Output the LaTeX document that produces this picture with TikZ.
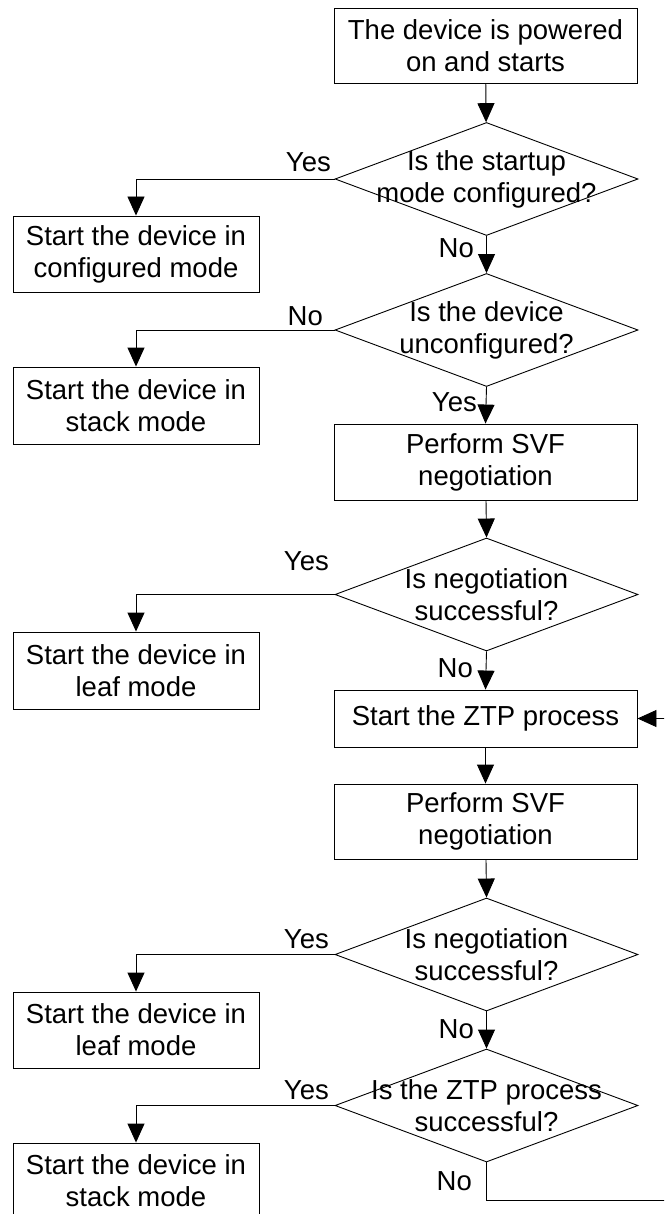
\documentclass[tikz,border=0pt]{standalone}
\usepackage{fontspec}
\setmainfont{Liberation Sans}
\usetikzlibrary{arrows.meta,shapes.geometric}

\tikzset{
  txt/.style={font=\fontsize{27.5}{32}\selectfont, align=center},
  procbox/.style={draw, line width=0.9pt, rectangle, inner sep=0pt, txt},
  mainbox/.style={procbox, minimum width=303pt, minimum height=75pt},
  sidebox/.style={procbox, minimum width=246pt, minimum height=76pt},
  decision/.style={draw, line width=0.9pt, diamond, inner sep=0pt,
    minimum width=303pt, minimum height=113pt},
  question/.style={txt, inner sep=0pt},
  branch/.style={txt, inner sep=0pt, anchor=base east},
  flow/.style={line width=0.9pt, -{Triangle[length=19pt,width=17pt]}}
}

\begin{document}
\begin{tikzpicture}[x=1pt,y=-1pt]
  \useasboundingbox (0,0) rectangle (664,1214);
  \fill[white] (0,0) rectangle (664,1214);
  \clip (0,0) rectangle (664,1214);

  % main column
  \node[mainbox] (start) at (485.5,45.5) {The device is powered\\on and starts};
  \node[decision] (q1) at (486.5,179) {};
  \node[question] (q1t) at (q1.center) {Is the startup\\mode configured?};
  \node[decision] (q2) at (486.5,330) {};
  \node[question] (q2t) at (q2.center) {Is the device\\unconfigured?};
  \node[mainbox, minimum height=76pt] (svf1) at (485.5,462) {Perform SVF\\negotiation};
  \node[decision] (q3) at (486.5,594.5) {};
  \node[question] (q3t) at (q3.center) {Is negotiation\\successful?};
  \node[mainbox, minimum height=57pt] (ztp) at (485.5,718.5) {Start the ZTP process};
  \node[mainbox] (svf2) at (485.5,821.5) {Perform SVF\\negotiation};
  \node[decision] (q4) at (486.5,954.5) {};
  \node[question] (q4t) at (q4.center) {Is negotiation\\successful?};
  \node[decision] (q5) at (486.5,1105.5) {};
  \node[question] (q5t) at (q5.center) {Is the ZTP process\\successful?};

  % outcome boxes on the left
  \node[sidebox] (cfg)    at (136,254)    {Start the device in\\configured mode};
  \node[sidebox, minimum height=77pt] (stack1) at (136,405.5) {Start the device in\\stack mode};
  \node[sidebox, minimum height=77pt] (leaf1)  at (136,670.5) {Start the device in\\leaf mode};
  \node[sidebox] (leaf2)  at (136,1030)   {Start the device in\\leaf mode};
  \node[sidebox] (stack2) at (136,1181)   {Start the device in\\stack mode};

  \coordinate (loop) at (690,1200);

  % connectors
  \draw[flow] (start) -- (q1);
  \draw[flow] (q1.south) -- (q2.north);
  \draw[flow] (q1.west) -| (cfg.north);
  \draw[flow] (q2.west) -| (stack1.north);
  \draw[flow] (q2.south) -- (svf1.north);
  \draw[flow] (svf1) -- (q3.north);
  \draw[flow] (q3.west) -| (leaf1.north);
  \draw[flow] (q3.south) -- (ztp.north);
  \draw[flow] (ztp) -- (svf2);
  \draw[flow] (svf2) -- (q4.north);
  \draw[flow] (q4.west) -| (leaf2.north);
  \draw[flow] (q4.south) -- (q5.north);
  \draw[flow] (q5.west) -| (stack2.north);
  \draw[flow] (q5.south) |- (loop) |- (ztp.east);

  % branch labels
  \node[branch] (y1) at (331,172)  {Yes};
  \node[branch] (n1) at (474,258)  {No};
  \node[branch] (n2) at (323,325)  {No};
  \node[branch] (y2) at (477,411)  {Yes};
  \node[branch] (y3) at (329,570)  {Yes};
  \node[branch] (n3) at (473,677)  {No};
  \node[branch] (y4) at (329,948)  {Yes};
  \node[branch] (n4) at (474,1038) {No};
  \node[branch] (y5) at (329,1099) {Yes};
  \node[branch] (n5) at (472,1190) {No};
\end{tikzpicture}
\end{document}
